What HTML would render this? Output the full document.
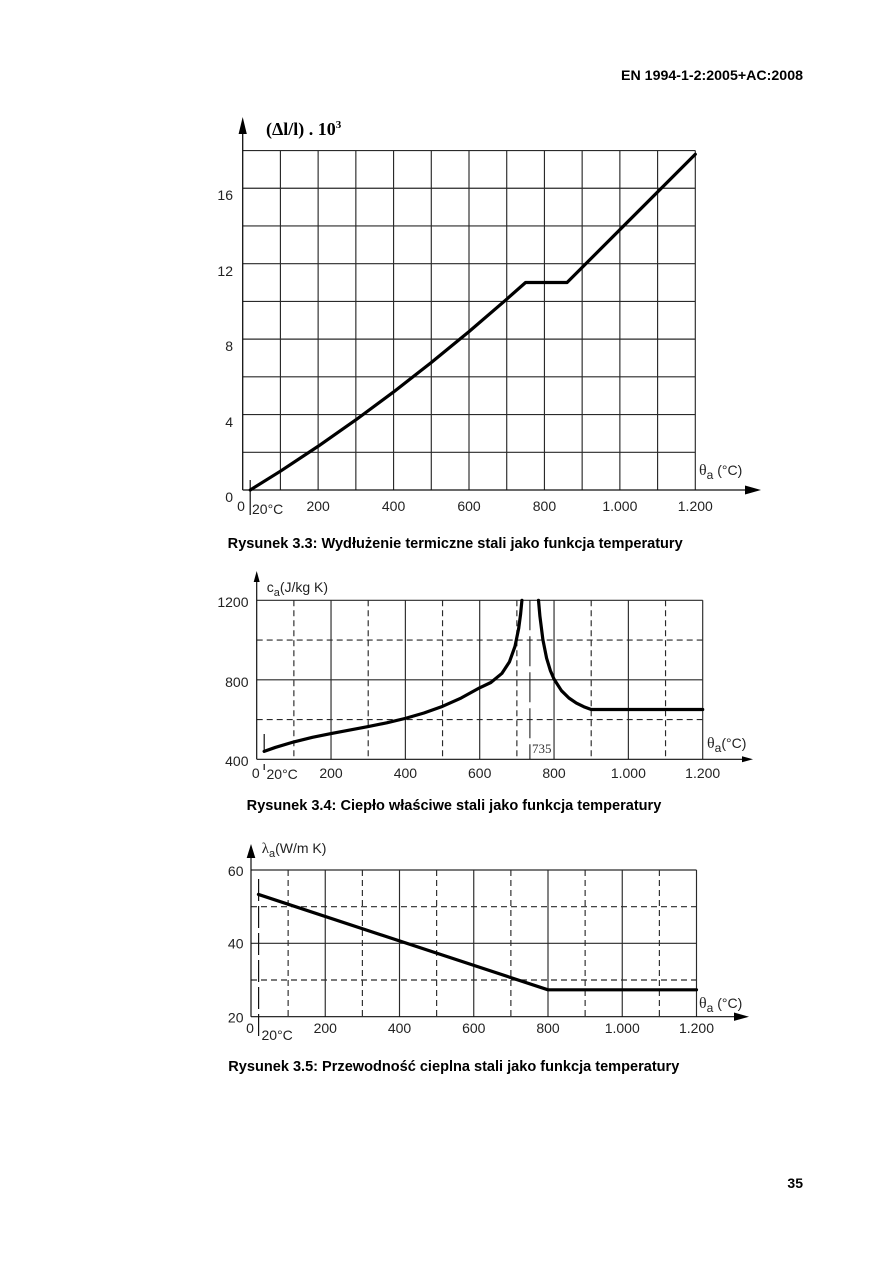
<!DOCTYPE html>
<html><head><meta charset="utf-8"><style>
html,body{margin:0;padding:0;background:#fff;}
svg{display:block;}
.s{font-family:"Liberation Sans",Arial,sans-serif;}
.t{font-family:"Liberation Sans",Arial,sans-serif;font-size:14px;fill:#222;}
.g{stroke:#2a2a2a;stroke-width:1.15;fill:none;}
.d{stroke:#2a2a2a;stroke-width:1.15;fill:none;stroke-dasharray:6,4;}
.c{stroke:#000;stroke-width:3.2;fill:none;stroke-linejoin:round;stroke-linecap:round;}
.cap{font-family:"Liberation Sans",Arial,sans-serif;font-weight:bold;font-size:14.5px;fill:#000;}
</style></head><body>
<svg width="893" height="1263" viewBox="0 0 893 1263" xmlns="http://www.w3.org/2000/svg">
<rect width="893" height="1263" fill="#fff"/>
<text x="803" y="80" text-anchor="end" class="s" font-weight="bold" font-size="14px" textLength="182" lengthAdjust="spacingAndGlyphs">EN 1994-1-2:2005+AC:2008</text>

<!-- ===== Chart 1 ===== -->
<g>
<path class="g" d="M280.42 150.52V490M318.13 150.52V490M355.85 150.52V490M393.57 150.52V490M431.29 150.52V490M469 150.52V490M506.72 150.52V490M544.44 150.52V490M582.15 150.52V490M619.87 150.52V490M657.59 150.52V490M695.3 150.52V490"/>
<path class="g" d="M242.7 452.28H695.3M242.7 414.56H695.3M242.7 376.84H695.3M242.7 339.12H695.3M242.7 301.4H695.3M242.7 263.68H695.3M242.7 225.96H695.3M242.7 188.24H695.3M242.7 150.52H695.3"/>
<path d="M242.7 490V130M242.7 490H748" stroke="#111" stroke-width="1.3" fill="none"/>
<polygon points="242.7,117 238.6,134 246.8,134" fill="#000"/>
<polygon points="761,490 745,485.5 745,494.5" fill="#000"/>
<path d="M250.2 480V515" stroke="#111" stroke-width="1.2"/>
<polyline class="c" points="250.24,490 280.42,471.17 318.13,446.27 355.85,419.87 393.57,391.95 431.29,362.53 469,331.6 506.72,299.16 525.58,282.5 567.07,282.5 695.3,154.27"/>
<text x="266" y="135" font-family="'Liberation Serif','Times New Roman',serif" font-weight="bold" font-size="18px">(Δl/l) . 10<tspan font-size="11px" dy="-7">3</tspan></text>
<g class="t" text-anchor="end">
<text x="233" y="502">0</text>
<text x="233" y="427">4</text>
<text x="233" y="351">8</text>
<text x="233" y="276">12</text>
<text x="233" y="200">16</text>
</g>
<g class="t" text-anchor="middle">
<text x="241" y="511">0</text>
<text x="318.13" y="511">200</text>
<text x="393.57" y="511">400</text>
<text x="469" y="511">600</text>
<text x="544.44" y="511">800</text>
<text x="619.87" y="511">1.000</text>
<text x="695.3" y="511">1.200</text>
</g>
<text x="252" y="514" class="t">20°C</text>
<text x="699" y="475" class="t"><tspan font-family="'Liberation Serif',serif" font-size="16px">θ</tspan><tspan dy="4" font-size="12px">a</tspan><tspan dy="-4"> (°C)</tspan></text>
</g>
<text x="227.7" y="548" class="cap" textLength="455" lengthAdjust="spacingAndGlyphs">Rysunek 3.3: Wydłużenie termiczne stali jako funkcja temperatury</text>

<!-- ===== Chart 2 ===== -->
<g>
<path class="g" d="M331.03 600.3V759.3M405.37 600.3V759.3M479.7 600.3V759.3M554.04 600.3V759.3M628.37 600.3V759.3M702.7 600.3V759.3M256.7 679.8H702.7M256.7 600.3H702.7"/>
<path class="d" d="M293.87 600.3V759.3M368.2 600.3V759.3M442.54 600.3V759.3M516.87 600.3V759.3M591.2 600.3V759.3M665.54 600.3V759.3M256.7 719.55H702.7M256.7 640.05H702.7"/>
<path d="M529.9 600.3V759.3" stroke="#222" stroke-width="1.1" stroke-dasharray="30,6" fill="none"/>
<path d="M256.7 759.3V578M256.7 759.3H744" stroke="#111" stroke-width="1.2" fill="none"/>
<polygon points="256.7,571 253.7,582 259.7,582" fill="#000"/>
<polygon points="753,759.3 742,756.3 742,762.3" fill="#000"/>
<path d="M264.2 734V752M264.2 764V770" stroke="#111" stroke-width="1.2"/>
<polyline class="c" points="264.13,751.39 275.28,747.43 293.87,741.89 312.45,737.35 331.03,733.51 349.62,730.02 368.2,726.56 386.78,722.79 405.37,718.38 423.95,713.01 442.54,706.33 461.12,698.03 479.7,687.77 490.85,682.5 502,673.3 509.44,661.88 515.01,646.34 518.73,628.12 520.59,614.14 521.93,600.3"/>
<polyline class="c" points="538.5,600.3 539.91,616.23 542.89,639.67 546.6,658.2 550.32,670.45 554.04,679.15 561.47,690.69 568.9,697.99 576.34,703.03 583.77,706.71 591.2,709.52 702.7,709.52"/>
<text x="532" y="753" font-family="'Liberation Serif','Times New Roman',serif" font-size="13px" fill="#333">735</text>
<g class="t" text-anchor="end">
<text x="248.5" y="607">1200</text>
<text x="248.5" y="687">800</text>
<text x="248.5" y="766">400</text>
</g>
<g class="t" text-anchor="middle">
<text x="255.8" y="778">0</text>
<text x="331.03" y="778">200</text>
<text x="405.37" y="778">400</text>
<text x="479.7" y="778">600</text>
<text x="554.04" y="778">800</text>
<text x="628.37" y="778">1.000</text>
<text x="702.7" y="778">1.200</text>
</g>
<text x="266.5" y="779" class="t">20°C</text>
<text x="266.7" y="592" class="t">c<tspan dy="4" font-size="11px">a</tspan><tspan dy="-4">(J/kg K)</tspan></text>
<text x="707" y="748" class="t"><tspan font-family="'Liberation Serif',serif" font-size="16px">θ</tspan><tspan dy="4" font-size="12px">a</tspan><tspan dy="-4">(°C)</tspan></text>
</g>
<text x="246.7" y="810" class="cap" textLength="414.6" lengthAdjust="spacingAndGlyphs">Rysunek 3.4: Ciepło właściwe stali jako funkcja temperatury</text>

<!-- ===== Chart 3 ===== -->
<g>
<path class="g" d="M325.25 870V1016.7M399.5 870V1016.7M473.75 870V1016.7M548 870V1016.7M622.25 870V1016.7M696.5 870V1016.7M251 943.35H696.5M251 870H696.5"/>
<path class="d" d="M288.13 870V1016.7M362.38 870V1016.7M436.63 870V1016.7M510.88 870V1016.7M585.13 870V1016.7M659.38 870V1016.7M251 980H696.5M251 906.7H696.5"/>
<path d="M251 1016.7V852M251 1016.7H738" stroke="#111" stroke-width="1.2" fill="none"/>
<polygon points="251,844 246.7,858 255.3,858" fill="#000"/>
<polygon points="749,1016.7 734,1012.5 734,1020.9" fill="#000"/>
<path d="M258.6 879V1040" stroke="#111" stroke-width="1.2" stroke-dasharray="22,5" fill="none"/>
<polyline class="c" points="258.43,894.45 548,989.8 696.5,989.8"/>
<g class="t" text-anchor="end">
<text x="243.5" y="876">60</text>
<text x="243.5" y="948.5">40</text>
<text x="243.5" y="1022.5">20</text>
</g>
<g class="t" text-anchor="middle">
<text x="250" y="1033">0</text>
<text x="325.25" y="1033">200</text>
<text x="399.5" y="1033">400</text>
<text x="473.75" y="1033">600</text>
<text x="548" y="1033">800</text>
<text x="622.25" y="1033">1.000</text>
<text x="696.5" y="1033">1.200</text>
</g>
<text x="261.5" y="1040" class="t">20°C</text>
<text x="261.7" y="853" class="t"><tspan font-family="'Liberation Serif',serif" font-size="15px">λ</tspan><tspan dy="4" font-size="11px">a</tspan><tspan dy="-4">(W/m K)</tspan></text>
<text x="699" y="1008" class="t"><tspan font-family="'Liberation Serif',serif" font-size="16px">θ</tspan><tspan dy="4" font-size="12px">a</tspan><tspan dy="-4"> (°C)</tspan></text>
</g>
<text x="228.3" y="1071" class="cap" textLength="451" lengthAdjust="spacingAndGlyphs">Rysunek 3.5: Przewodność cieplna stali jako funkcja temperatury</text>

<text x="803" y="1188" text-anchor="end" class="s" font-weight="bold" font-size="14px">35</text>
</svg>
</body></html>
